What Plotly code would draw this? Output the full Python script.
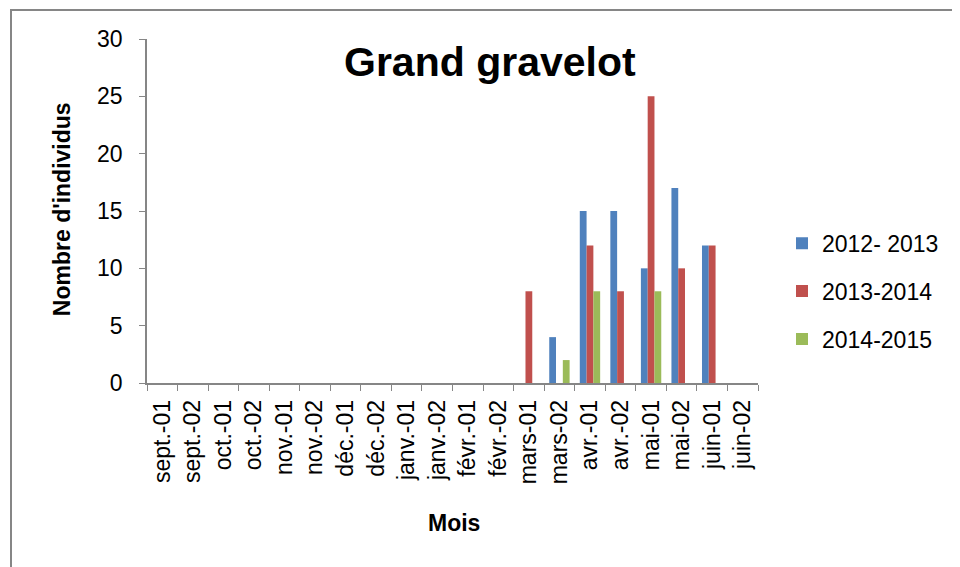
import plotly.graph_objects as go

months = ["sept.-01", "sept.-02", "oct.-01", "oct.-02", "nov.-01", "nov.-02",
          "déc.-01", "déc.-02", "janv.-01", "janv.-02", "févr.-01", "févr.-02",
          "mars-01", "mars-02", "avr.-01", "avr.-02", "mai-01", "mai-02",
          "juin-01", "juin-02"]

s2012_2013 = [0, 0, 0, 0, 0, 0, 0, 0, 0, 0, 0, 0, 0, 4, 15, 15, 10, 17, 12, 0]
s2013_2014 = [0, 0, 0, 0, 0, 0, 0, 0, 0, 0, 0, 0, 8, 0, 12, 8, 25, 10, 12, 0]
s2014_2015 = [0, 0, 0, 0, 0, 0, 0, 0, 0, 0, 0, 0, 0, 2, 8, 0, 8, 0, 0, 0]

series_names = ["2012- 2013", "2013-2014", "2014-2015"]
colors = ["#4F81BD", "#C0504D", "#9BBB59"]
y_ticks = [0, 5, 10, 15, 20, 25, 30]

FONT = "Liberation Sans"

fig = go.Figure()
for i, (name, vals) in enumerate(zip(series_names, [s2012_2013, s2013_2014, s2014_2015])):
    fig.add_trace(go.Bar(x=months, y=vals, name=name, legendgroup=name,
                         marker=dict(color=colors[i], line=dict(width=0))))

# page body margin offsets the figure by 8px
OFF = 8
W, H = 960, 567
SL, SR, ST, SB = 147, 758, 39, 382.7  # plot area in screen coords
L = SL - OFF
T = ST - OFF
R = W - (SR - OFF)
B = H - (SB - OFF)
pw = SR - SL
ph = SB - ST

def px_x(p):
    return (p - SL) / pw

def px_y(p):
    return (SB - p) / ph

fig.update_layout(
    width=W, height=H,
    margin=dict(l=L, r=R, t=T, b=B, pad=0),
    paper_bgcolor="white", plot_bgcolor="white",
    barmode="group", bargap=0.333, bargroupgap=0,
    font=dict(family=FONT, size=23, color="black"),
    showlegend=True,
    legend=dict(x=px_x(782), xanchor="left", y=px_y(291), yanchor="middle",
                font=dict(size=23, family=FONT), tracegroupgap=15,
                bgcolor="rgba(0,0,0,0)", itemwidth=30),
    xaxis=dict(type="category", categoryorder="array", categoryarray=months,
               tickangle=-90, tickson="boundaries", ticks="outside", ticklen=6,
               tickcolor="#868686", showline=True, linecolor="#868686", linewidth=1.5,
               showgrid=False, tickfont=dict(size=23, family=FONT),
               ticklabelstandoff=6),
    yaxis=dict(range=[0, 30], tickvals=y_ticks, ticks="outside", ticklen=6,
               tickcolor="#868686", showline=True, linecolor="#868686", linewidth=1.5,
               showgrid=False, zeroline=False, tickfont=dict(size=23, family=FONT),
               ticklabelstandoff=12),
)

fig.add_annotation(text="<b>Grand gravelot</b>", xref="paper", yref="paper",
                   x=px_x(490), y=px_y(62), xanchor="center", yanchor="middle",
                   showarrow=False, font=dict(size=41, family=FONT))
fig.add_annotation(text="<b>Nombre d'individus</b>", xref="paper", yref="paper",
                   x=px_x(62), y=px_y(209), xanchor="center", yanchor="middle",
                   textangle=-90, showarrow=False, font=dict(size=23, family=FONT))
fig.add_annotation(text="<b>Mois</b>", xref="paper", yref="paper",
                   x=px_x(454), y=px_y(523), xanchor="center", yanchor="middle",
                   showarrow=False, font=dict(size=23, family=FONT))

fig.add_shape(type="rect", xref="paper", yref="paper",
              x0=px_x(11), y0=px_y(590), x1=px_x(985), y1=px_y(10),
              line=dict(color="#868686", width=2), fillcolor="rgba(0,0,0,0)",
              layer="below")

fig.write_html("out.html")
